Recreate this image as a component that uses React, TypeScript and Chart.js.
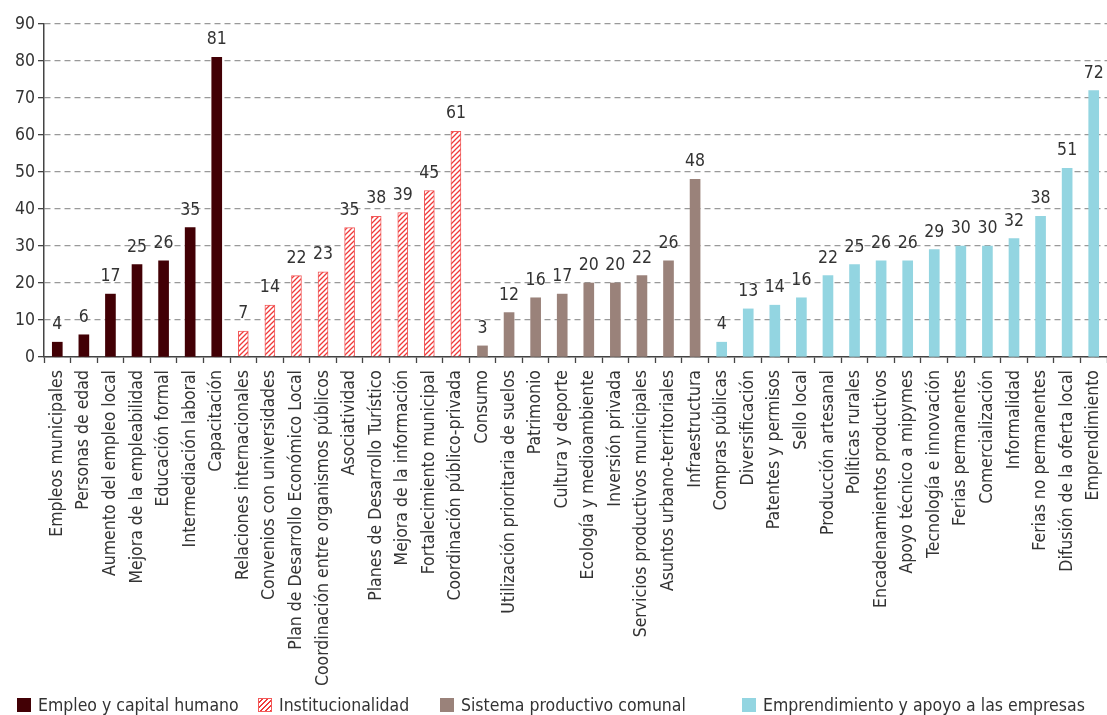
import React, { useEffect, useRef } from "react";
import { Chart, registerables } from "chart.js";

Chart.register(...registerables);

const FONT = '"DejaVu Sans Condensed", "Liberation Sans Narrow", "DejaVu Sans", sans-serif';
const FONT_SIZE = 17.5;
const TEXT_COLOR = "#333333";

// Series names shown in the legend
const seriesNames = [
  "Empleo y capital humano",
  "Institucionalidad",
  "Sistema productivo comunal",
  "Emprendimiento y apoyo a las empresas",
];

// Empleo y capital humano
const empleoLabels = [
  "Empleos municipales",
  "Personas de edad",
  "Aumento del empleo local",
  "Mejora de la empleabilidad",
  "Educación formal",
  "Intermediación laboral",
  "Capacitación",
];
const empleoValues = [4, 6, 17, 25, 26, 35, 81];

// Institucionalidad
const institucionalLabels = [
  "Relaciones internacionales",
  "Convenios con universidades",
  "Plan de Desarrollo Económico Local",
  "Coordinación entre organismos públicos",
  "Asociatividad",
  "Planes de Desarrollo Turístico",
  "Mejora de la información",
  "Fortalecimiento municipal",
  "Coordinación público-privada",
];
const institucionalValues = [7, 14, 22, 23, 35, 38, 39, 45, 61];

// Sistema productivo comunal
const productivoLabels = [
  "Consumo",
  "Utilización prioritaria de suelos",
  "Patrimonio",
  "Cultura y deporte",
  "Ecología y medioambiente",
  "Inversión privada",
  "Servicios productivos municipales",
  "Asuntos urbano-territoriales",
  "Infraestructura",
];
const productivoValues = [3, 12, 16, 17, 20, 20, 22, 26, 48];

// Emprendimiento y apoyo a las empresas
const emprendimientoLabels = [
  "Compras públicas",
  "Diversificación",
  "Patentes y permisos",
  "Sello local",
  "Producción artesanal",
  "Políticas rurales",
  "Encadenamientos productivos",
  "Apoyo técnico a mipymes",
  "Tecnología e innovación",
  "Ferias permanentes",
  "Comercialización",
  "Informalidad",
  "Ferias no permanentes",
  "Difusión de la oferta local",
  "Emprendimiento",
];
const emprendimientoValues = [4, 13, 14, 16, 22, 25, 26, 26, 29, 30, 30, 32, 38, 51, 72];

const yMin = 0;
const yMax = 90;
const yStep = 10;

const COLORS = {
  empleo: "#420005",
  hatchLine: "#f03a3a",
  hatchBorder: "#f25a5a",
  productivo: "#9a827a",
  emprendimiento: "#93d5e1",
};

function makeHatch(): CanvasPattern | string {
  const size = 5;
  const c = document.createElement("canvas");
  c.width = size;
  c.height = size;
  const g = c.getContext("2d");
  if (!g) return "#ffffff";
  g.fillStyle = "#ffffff";
  g.fillRect(0, 0, size, size);
  g.strokeStyle = COLORS.hatchLine;
  g.lineWidth = 1.3;
  g.beginPath();
  g.moveTo(-1, size + 1);
  g.lineTo(size + 1, -1);
  g.moveTo(-1, 1);
  g.lineTo(1, -1);
  g.moveTo(size - 1, size + 1);
  g.lineTo(size + 1, size - 1);
  g.stroke();
  const p = g.createPattern(c, "repeat");
  return p || "#ffffff";
}

// Draws each bar's value above it
const valueLabels = {
  id: "valueLabels",
  afterDatasetsDraw(chart: any) {
    const ctx = chart.ctx;
    ctx.save();
    ctx.font = `${FONT_SIZE}px ${FONT}`;
    ctx.fillStyle = TEXT_COLOR;
    ctx.textAlign = "center";
    ctx.textBaseline = "alphabetic";
    chart.data.datasets.forEach((ds: any, di: number) => {
      const meta = chart.getDatasetMeta(di);
      meta.data.forEach((bar: any, i: number) => {
        const v = ds.data[i];
        if (v === null || v === undefined) return;
        ctx.fillText(String(v), bar.x, bar.y - 13);
      });
    });
    ctx.restore();
  },
};

const legendSwatches = [
  { background: COLORS.empleo, border: "none" },
  {
    background: `repeating-linear-gradient(135deg, #ffffff 0px, #ffffff 2px, ${COLORS.hatchLine} 2px, ${COLORS.hatchLine} 3.4px)`,
    border: `1px solid ${COLORS.hatchBorder}`,
  },
  { background: COLORS.productivo, border: "none" },
  { background: COLORS.emprendimiento, border: "none" },
];
const legendLeft = [17, 258, 440, 742];

export default function App() {
  const canvasRef = useRef<HTMLCanvasElement | null>(null);

  useEffect(() => {
    if (!canvasRef.current) return;

    const groups = [
      { labels: empleoLabels, values: empleoValues },
      { labels: institucionalLabels, values: institucionalValues },
      { labels: productivoLabels, values: productivoValues },
      { labels: emprendimientoLabels, values: emprendimientoValues },
    ];
    const categories = groups.flatMap((g) => g.labels);

    const spread = (groupIndex: number) => {
      let start = 0;
      for (let k = 0; k < groupIndex; k++) start += groups[k].labels.length;
      const vals = groups[groupIndex].values;
      return categories.map((_, i) =>
        i >= start && i < start + vals.length ? vals[i - start] : null
      );
    };

    const hatch = makeHatch();
    const tickFont = { family: FONT, size: FONT_SIZE };

    const chart = new Chart(canvasRef.current, {
      type: "bar",
      data: {
        labels: categories,
        datasets: [
          { label: seriesNames[0], data: spread(0), backgroundColor: COLORS.empleo, borderWidth: 0 },
          {
            label: seriesNames[1],
            data: spread(1),
            backgroundColor: hatch as any,
            borderColor: COLORS.hatchBorder,
            borderWidth: 1,
          },
          { label: seriesNames[2], data: spread(2), backgroundColor: COLORS.productivo, borderWidth: 0 },
          { label: seriesNames[3], data: spread(3), backgroundColor: COLORS.emprendimiento, borderWidth: 0 },
        ],
      },
      options: {
        animation: false,
        responsive: true,
        maintainAspectRatio: false,
        layout: { padding: { left: 0, right: 0, top: 24, bottom: 30 } },
        datasets: {
          bar: { grouped: false, barThickness: 10 } as any,
        },
        plugins: {
          tooltip: { enabled: false },
          legend: { display: false },
        },
        scales: {
          x: {
            offset: true,
            afterFit: (scale: any) => {
              scale.height = 328;
              scale.paddingLeft = 0;
              scale.paddingRight = 0;
            },
            grid: {
              display: true,
              drawOnChartArea: false,
              drawTicks: true,
              offset: true,
              tickLength: 6,
              tickColor: "#444444",
              tickWidth: 1.3,
            },
            border: { display: true, color: "#444444", width: 1.5 },
            ticks: {
              autoSkip: false,
              minRotation: 90,
              maxRotation: 90,
              padding: 7,
              color: TEXT_COLOR,
              font: tickFont,
            },
          },
          y: {
            min: yMin,
            max: yMax,
            afterFit: (scale: any) => {
              scale.width = 44;
              scale.paddingTop = 0;
              scale.paddingBottom = 0;
            },
            grid: {
              color: "#999999",
              lineWidth: 1.3,
              drawTicks: true,
              tickLength: 6,
              tickColor: "#444444",
              tickWidth: 1.3,
              tickBorderDash: [],
            } as any,
            border: { display: true, color: "#444444", width: 1.5, dash: [6, 4] },
            ticks: {
              stepSize: yStep,
              autoSkip: false,
              maxTicksLimit: 20,
              padding: 3,
              color: TEXT_COLOR,
              font: tickFont,
            },
          },
        },
      },
      plugins: [valueLabels],
    });

    return () => chart.destroy();
  }, []);

  return (
    <div style={{ position: "absolute", left: 0, top: 0, width: 1107, height: 715 }}>
      <canvas ref={canvasRef} />
      {seriesNames.map((name, i) => (
        <div
          key={name}
          style={{
            position: "absolute",
            left: legendLeft[i],
            top: 694,
            height: 22,
            display: "flex",
            alignItems: "center",
            whiteSpace: "nowrap",
            fontFamily: FONT,
            fontSize: FONT_SIZE,
            color: TEXT_COLOR,
          }}
        >
          <span
            style={{
              display: "inline-block",
              width: 14,
              height: 14,
              boxSizing: "border-box",
              marginRight: 7,
              background: legendSwatches[i].background,
              border: legendSwatches[i].border,
            }}
          />
          <span>{name}</span>
        </div>
      ))}
    </div>
  );
}
